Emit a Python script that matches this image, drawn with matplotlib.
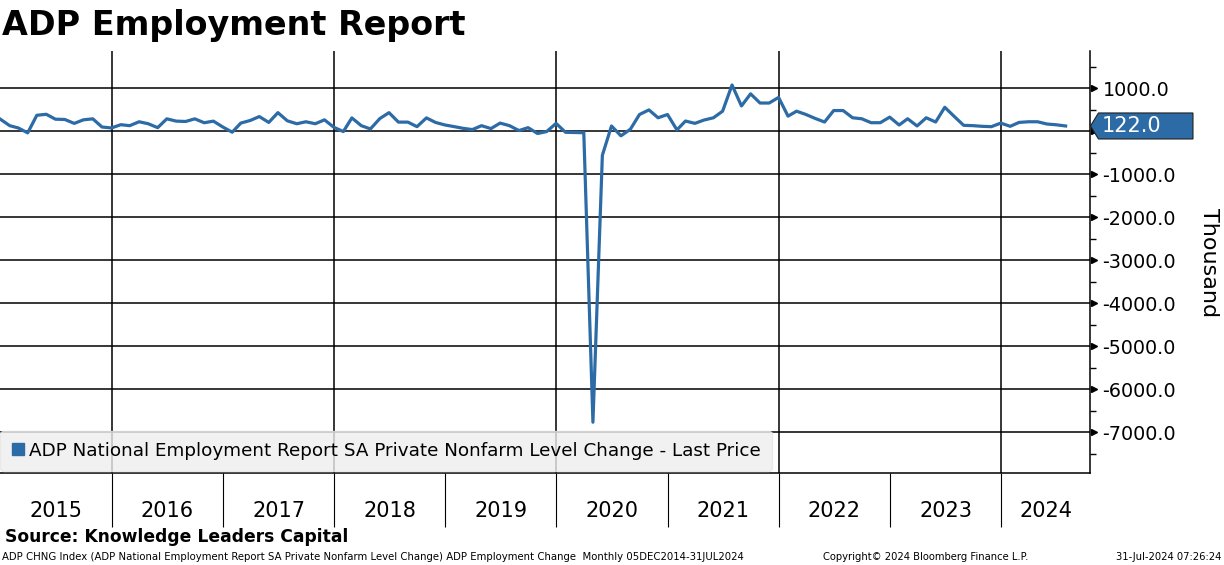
import matplotlib
matplotlib.use('Agg')
import matplotlib.pyplot as plt
import matplotlib.transforms as mtransforms
from matplotlib.lines import Line2D
from matplotlib.patches import Polygon
import numpy as np
import pandas as pd

# monthly ADP change (thousands), Dec 2014 .. Jul 2024
adp_change = [
    280, 129, 76, -38, 371, 394, 280, 273, 182, 265, 288, 98,
    76, 152, 129, 220, 174, 83, 288, 235, 227, 288, 197, 235,
    98, -23, 189, 250, 341, 204, 432, 242, 174, 220, 174, 265,
    91, -8, 310, 129, 53, 295, 432, 212, 212, 106, 310, 204,
    145, 106, 68, 38, 129, 61, 189, 129, 15, 83, -53, -8,
    182, -25, -30, -35, -6770, -560, 122, -107, 46, 389, 496, 313,
    389, 31, 237, 183, 260, 313, 466, 1076, 588, 870, 656, 656,
    786, 351, 466, 389, 298, 214, 481, 481, 313, 290, 198, 198,
    328, 145, 290, 122, 313, 214, 557, 344, 137, 130, 114, 106,
    189, 114, 205, 220, 220, 167, 150, 122,
]
dates = pd.date_range('2014-12-31', periods=len(adp_change), freq='ME')
years = list(range(2015, 2025))
grid_years = [2016, 2018, 2020, 2022, 2024]
y_ticks = list(range(-7000, 2000, 1000))
y_minor = list(range(-7500, 2000, 1000))
last_price = adp_change[-1]

series_name = 'ADP National Employment Report SA Private Nonfarm Level Change - Last Price'
blue = '#2c6ba6'

fig = plt.figure(figsize=(12.24, 5.65), dpi=100)
ax = fig.add_axes([0.0, 0.163, 0.8905, 0.747])

x0 = pd.Timestamp('2014-12-30')
x1 = pd.Timestamp('2024-10-19')

ax.plot(dates, adp_change, color=blue, lw=2.3, zorder=3)
ax.set_xlim(x0, x1)
ax.set_ylim(-7950, 1870)

# gridlines
ax.yaxis.grid(True, which='major', color='black', lw=1.1)
for yr in grid_years:
    ax.axvline(pd.Timestamp(f'{yr}-01-01'), color='black', lw=1.1, zorder=1)

# y axis on right (0.0 label is hidden under the last-price tag)
ax.yaxis.tick_right()
ax.set_yticks(y_ticks)
ax.set_yticks(y_minor, minor=True)
ax.yaxis.set_major_formatter(lambda v, p: '' if v == 0 else f'{v:.1f}')
ax.tick_params(axis='y', which='major', length=0, pad=9, labelsize=13.8)
ax.tick_params(axis='y', which='minor', length=4, width=1, direction='out')
tri = ax.get_yaxis_transform() + mtransforms.ScaledTranslation(3 / 72, 0, fig.dpi_scale_trans)
ax.plot(np.ones(len(y_ticks)), y_ticks, transform=tri, marker='>', ls='none',
        color='black', ms=5, clip_on=False)

# x axis: year boundaries as long ticks, labels centred in each visible year
bounds = [pd.Timestamp(f'{yr}-01-01') for yr in years[1:]]
ax.set_xticks(bounds)
ax.set_xticklabels([])
centers = []
for yr in years:
    a = max(pd.Timestamp(f'{yr}-01-01'), x0)
    b = min(pd.Timestamp(f'{yr + 1}-01-01'), x1)
    centers.append(a + (b - a) / 2)
ax.set_xticks(centers, minor=True)
ax.set_xticklabels([str(y) for y in years], minor=True)
ax.tick_params(axis='x', which='major', length=39, width=0.8, direction='out')
ax.tick_params(axis='x', which='minor', length=0, pad=20, labelsize=15)

for s in ['top', 'left']:
    ax.spines[s].set_visible(False)
ax.spines['right'].set_linewidth(1.1)
ax.spines['bottom'].set_linewidth(1.1)

# last price tag, shape in inches relative to (right spine, last value)
tag_trans = fig.dpi_scale_trans + mtransforms.ScaledTranslation(1, last_price, ax.get_yaxis_transform())
tag = Polygon([(0.005, 0), (0.085, 0.13), (1.03, 0.13), (1.03, -0.13), (0.085, -0.13)],
              closed=True, transform=tag_trans, fc=blue, ec='#1f1f1f', lw=0.8, clip_on=False, zorder=6)
ax.add_patch(tag)
ax.text(0.115, -0.005, f'{last_price:.1f}', transform=tag_trans, color='white', fontsize=15,
        ha='left', va='center', zorder=7, clip_on=False)

# legend
handle = Line2D([], [], marker='s', color=blue, ls='none', ms=8)
leg = ax.legend([handle], [series_name], loc='lower left', bbox_to_anchor=(0, 0.005),
                borderaxespad=0, fontsize=13.2, handlelength=0.8, handletextpad=0.2,
                borderpad=0.6, facecolor='#eeeeee', edgecolor='#e6e6e6', framealpha=0.8)
leg.set_zorder(5)

fig.text(0.988, 0.536, 'Thousand', rotation=-90, ha='center', va='center', fontsize=16)
fig.text(0.002, 0.955, 'ADP Employment Report', fontsize=24, fontweight='bold', ha='left', va='center')
fig.text(0.004, 0.049, 'Source: Knowledge Leaders Capital', fontsize=12.3, fontweight='bold',
         ha='left', va='center')
fig.text(0.002, 0.015, 'ADP CHNG Index (ADP National Employment Report SA Private Nonfarm Level Change) '
         'ADP Employment Change  Monthly 05DEC2014-31JUL2024', fontsize=7.25, ha='left', va='center')
fig.text(0.672, 0.015, 'Copyright\u00a9 2024 Bloomberg Finance L.P.', fontsize=7.2, ha='left', va='center')
fig.text(0.998, 0.015, '31-Jul-2024 07:26:24', fontsize=7.2, ha='right', va='center')

fig.savefig('out.png', dpi=100)
